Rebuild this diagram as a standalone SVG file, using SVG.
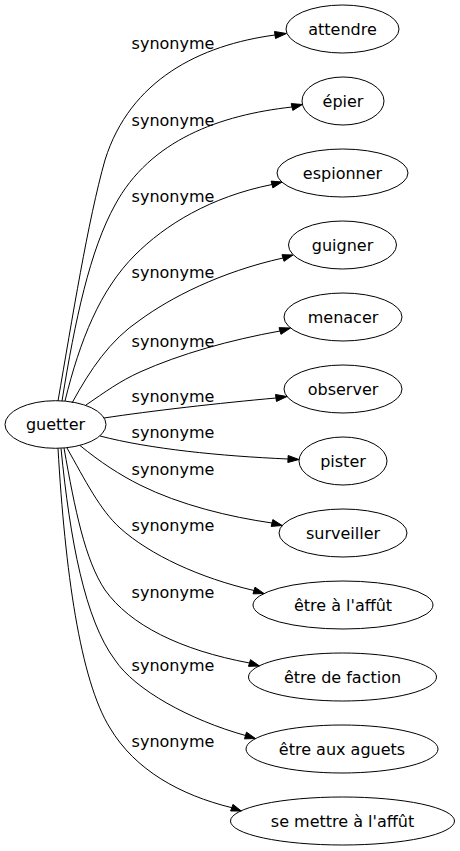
<svg xmlns="http://www.w3.org/2000/svg" width="460" height="851" viewBox="0 0 460 851">
<style>
.n ellipse{fill:none;stroke:#000;stroke-width:1}
text{font-family:"DejaVu Sans",Verdana,sans-serif;font-size:16px;fill:#000;text-anchor:middle}
.e path{fill:none;stroke:#000;stroke-width:1}
.e polygon{fill:#000;stroke:#000;stroke-width:1}
</style>
<rect width="460" height="851" fill="#fff"/>
<g id="edges" class="e">
<path d="M58,401 C72,320 88,220 105,160 C130,80 200,45 275,35"/>
<polygon points="275.5,38.5 274.5,31.5 286.5,33.5"/>
<path d="M62,401 C75,320 90,250 115,205 C150,140 220,115 292,107"/>
<polygon points="292.8,110.4 291.2,103.6 302.4,104.5"/>
<path d="M65,401 C80,340 100,290 135,255 C165,225 210,197 272,184.5"/>
<polygon points="272.85,187.9 271.15,181.1 282,182"/>
<path d="M72,403 C90,370 110,340 140,320 C170,298 220,272 283,258"/>
<polygon points="284,261.35 282,254.65 293,255"/>
<path d="M86,405 C105,392 120,381 140,372 C180,354 230,340 280,331"/>
<polygon points="280.96,334.36 279.04,327.64 290.5,328"/>
<path d="M104,418 C150,411 220,403 276,398"/>
<polygon points="276.47,401.47 275.53,394.53 287,396.5"/>
<path d="M100,436 C150,449 220,456 288,459"/>
<polygon points="287.84,462.5 288.16,455.5 299,459.5"/>
<path d="M80,445.5 C100,462 120,475 140,485 C180,505 230,517 272,523"/>
<polygon points="271.17,526.4 272.83,519.6 282.2,525.5"/>
<path d="M67,448 C85,480 100,510 120,528 C150,555 200,578 254,590.5"/>
<polygon points="253,593.85 255,587.15 264,593.5"/>
<path d="M64,448 C75,510 85,560 105,590 C130,625 180,650 249.5,663"/>
<polygon points="248.5,666.35 250.5,659.65 259.5,666"/>
<path d="M61,448.3 C70,540 85,620 115,660 C135,690 190,720 245.5,735.5"/>
<polygon points="244.5,738.85 246.5,732.15 255.5,738.5"/>
<path d="M58,448.3 C65,570 80,680 110,728 C135,770 180,795 231.8,807.7"/>
<polygon points="230.64,811 232.96,804.4 241.3,811"/>
<text x="173" y="49">synonyme</text>
<text x="173" y="126">synonyme</text>
<text x="173" y="202">synonyme</text>
<text x="173" y="278">synonyme</text>
<text x="173" y="347">synonyme</text>
<text x="173" y="402">synonyme</text>
<text x="173" y="438">synonyme</text>
<text x="173" y="475">synonyme</text>
<text x="173" y="531">synonyme</text>
<text x="173" y="598">synonyme</text>
<text x="173" y="671">synonyme</text>
<text x="173" y="747">synonyme</text>
</g>
<g id="guetter" class="n"><ellipse cx="55.5" cy="424.5" rx="50.5" ry="23.8"/><text x="55.5" y="430">guetter</text></g>
<g id="attendre" class="n"><ellipse cx="342.5" cy="29" rx="56.5" ry="24"/><text x="342.5" y="34.5">attendre</text></g>
<g id="epier" class="n"><ellipse cx="343" cy="101" rx="41" ry="24"/><text x="343" y="106.5">épier</text></g>
<g id="espionner" class="n"><ellipse cx="342.5" cy="173" rx="65.5" ry="24"/><text x="342.5" y="178.5">espionner</text></g>
<g id="guigner" class="n"><ellipse cx="342.5" cy="245" rx="54" ry="24"/><text x="342.5" y="250.5">guigner</text></g>
<g id="menacer" class="n"><ellipse cx="343" cy="317" rx="59" ry="24"/><text x="343" y="322.5">menacer</text></g>
<g id="observer" class="n"><ellipse cx="343" cy="389" rx="59" ry="24"/><text x="343" y="394.5">observer</text></g>
<g id="pister" class="n"><ellipse cx="343" cy="461" rx="44" ry="24"/><text x="343" y="466.5">pister</text></g>
<g id="surveiller" class="n"><ellipse cx="343" cy="533" rx="64" ry="24"/><text x="343" y="538.5">surveiller</text></g>
<g id="etre-a-laffut" class="n"><ellipse cx="343" cy="605" rx="90" ry="24"/><text x="343" y="610.5">être à l'affût</text></g>
<g id="etre-de-faction" class="n"><ellipse cx="342.5" cy="677" rx="94" ry="24"/><text x="342.5" y="682.5">être de faction</text></g>
<g id="etre-aux-aguets" class="n"><ellipse cx="342" cy="749" rx="96" ry="24"/><text x="342" y="754.5">être aux aguets</text></g>
<g id="se-mettre-a-laffut" class="n"><ellipse cx="342.5" cy="821" rx="112" ry="24"/><text x="342.5" y="826.5">se mettre à l'affût</text></g>
</svg>
